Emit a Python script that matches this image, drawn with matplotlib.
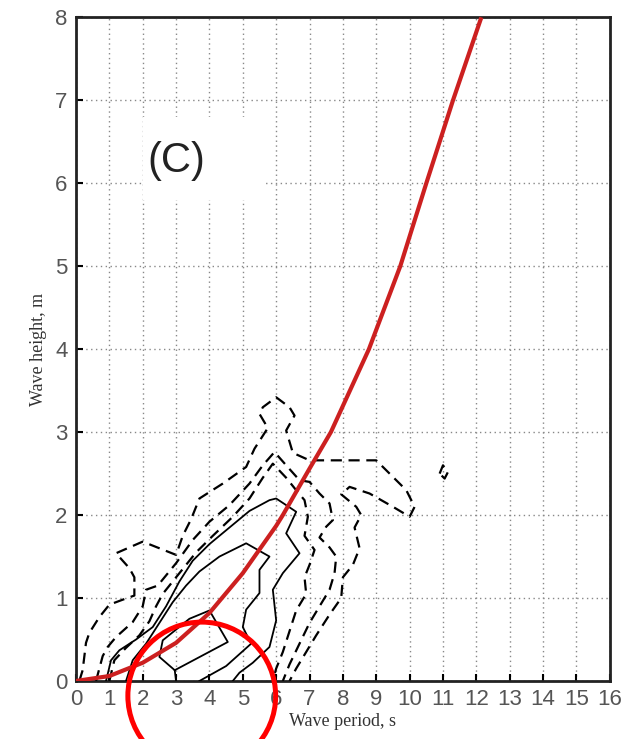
import numpy as np
import matplotlib
matplotlib.use("Agg")
import matplotlib.pyplot as plt
from matplotlib.patches import Ellipse, Rectangle

# steepness limit curve (wave period s, wave height m)
limit_t = [0, 1, 2, 3, 4, 5, 6, 6.2, 7, 7.64, 8.78, 9.72, 10.5, 11.3, 12.15]
limit_h = [0, 0.06, 0.22, 0.46, 0.82, 1.3, 1.87, 2.0, 2.56, 3.0, 4.0, 5.0, 6.0, 7.0, 8.0]

# dashed contours (outer levels)
dashed_1 = [(0.1, 0), (0.2, 0.13), (0.3, 0.46), (0.4, 0.58), (0.7, 0.77), (1.0, 0.92), (1.4, 0.98),
            (1.75, 1.03), (1.75, 1.25), (1.6, 1.36), (1.2, 1.54), (2.0, 1.68), (3.0, 1.52), (3.2, 1.75),
            (3.45, 1.95), (3.7, 2.2), (4.4, 2.38), (5.1, 2.58), (5.35, 2.8), (5.75, 3.05), (5.5, 3.22),
            (5.6, 3.3), (6.0, 3.42), (6.4, 3.3), (6.55, 3.2), (6.3, 3.02), (6.5, 2.75), (7.0, 2.66),
            (9.0, 2.66), (9.9, 2.3), (10.15, 2.1), (10.0, 1.98), (9.5, 2.1), (8.8, 2.26), (8.2, 2.34),
            (7.95, 2.25), (8.4, 2.1), (8.55, 2.0), (8.35, 1.85), (8.5, 1.6), (8.3, 1.4), (8.0, 1.25),
            (7.95, 1.0), (7.6, 0.8), (7.2, 0.55), (6.9, 0.35), (6.6, 0.15), (6.4, 0)]
dashed_2 = [(0.6, 0), (0.8, 0.3), (0.95, 0.41), (1.2, 0.53), (1.7, 0.71), (2.0, 0.9), (2.1, 1.1),
            (2.45, 1.15), (3.0, 1.42), (3.5, 1.7), (4.0, 1.92), (4.6, 2.12), (5.2, 2.38), (5.6, 2.6),
            (5.95, 2.76), (6.3, 2.6), (6.7, 2.42), (7.0, 2.4), (7.3, 2.26), (7.6, 2.14), (7.7, 1.94),
            (7.5, 1.86), (7.3, 1.73), (7.6, 1.61), (7.8, 1.5), (7.75, 1.3), (7.6, 1.1), (7.3, 0.9),
            (7.0, 0.7), (6.7, 0.45), (6.4, 0.2), (6.2, 0)]
dashed_3 = [(1.0, 0), (1.15, 0.25), (1.5, 0.4), (1.9, 0.55), (2.2, 0.72), (2.4, 0.9), (2.6, 1.05),
            (3.1, 1.3), (3.6, 1.55), (4.1, 1.75), (4.7, 1.98), (5.2, 2.2), (5.6, 2.45), (5.9, 2.62),
            (6.3, 2.45), (6.6, 2.3), (6.85, 2.18), (6.95, 1.98), (6.85, 1.75), (7.15, 1.58), (7.0, 1.4),
            (6.85, 1.25), (6.9, 1.05), (6.6, 0.85), (6.4, 0.6), (6.2, 0.35), (6.0, 0.15), (5.9, 0)]
blob = [(10.9, 2.5), (11.0, 2.6), (11.15, 2.52), (11.05, 2.44), (10.9, 2.5)]

# solid contours (inner levels)
solid_1 = [(0.9, 0), (1.05, 0.25), (1.3, 0.37), (1.8, 0.5), (2.3, 0.65), (2.7, 0.9), (3.1, 1.2),
           (3.5, 1.45), (4.0, 1.65), (4.6, 1.85), (5.2, 2.05), (5.8, 2.18), (6.0, 2.2), (6.6, 2.04),
           (6.3, 1.78), (6.7, 1.54), (6.2, 1.3), (5.9, 1.1), (6.0, 0.73), (5.8, 0.41), (5.3, 0.22),
           (4.9, 0.1), (4.7, 0)]
solid_2 = [(1.5, 0), (1.7, 0.25), (2.1, 0.45), (2.5, 0.7), (2.9, 0.95), (3.3, 1.15), (3.7, 1.32),
           (4.3, 1.5), (5.1, 1.66), (5.8, 1.5), (5.5, 1.34), (5.5, 1.06), (5.1, 0.86), (5.0, 0.65),
           (5.25, 0.45), (4.5, 0.18), (3.7, 0)]
solid_3 = [(3.0, 0), (2.96, 0.13), (2.5, 0.29), (2.6, 0.49), (3.4, 0.75), (4.0, 0.85), (4.55, 0.47),
           (2.96, 0.13)]

x_ticks = list(range(0, 17))
y_ticks = list(range(0, 9))

fig = plt.figure(figsize=(6.28, 7.39), dpi=100)
ax = fig.add_axes([0.121, 0.0785, 0.850, 0.898])

for line in [dashed_1, dashed_2, dashed_3, blob]:
    t, h = zip(*line)
    ax.plot(t, h, color="black", linewidth=1.6, linestyle=(0, (5, 3)), zorder=3)
for line in [solid_1, solid_2, solid_3]:
    t, h = zip(*line)
    ax.plot(t, h, color="black", linewidth=1.3, zorder=3)

ax.plot(limit_t, limit_h, color="#cc2020", linewidth=3, zorder=4, solid_capstyle="butt")

# white patch behind the panel letter
ax.add_patch(Rectangle((2.0, 5.8), 3.7, 1.0, facecolor="white", edgecolor="none", zorder=2))
ax.text(2.15, 6.27, "(C)", fontsize=30, family="Liberation Sans", va="center", ha="left",
        color="#222222", zorder=5)

# red highlight circle at the bottom
ax.add_patch(Ellipse((3.77, -0.18), 4.43, 1.78, fill=False, edgecolor="red", linewidth=3.6,
                     clip_on=False, zorder=6))

ax.set_xlim(0, 16)
ax.set_ylim(0, 8)
ax.set_xticks(x_ticks)
ax.set_yticks(y_ticks)
ax.grid(True, linestyle=(0, (1, 2.5)), color="#888888", linewidth=1)
ax.tick_params(direction="in", length=5, width=1.5, labelsize=16, colors="black",
               labelcolor="#555555", pad=6)
for lab in ax.get_xticklabels() + ax.get_yticklabels():
    lab.set_family("Liberation Sans")
for s in ax.spines.values():
    s.set_linewidth(2)
    s.set_color("#222222")

ax.set_xlabel("Wave period, s", family="Liberation Serif", fontsize=13, color="#333333", labelpad=2)
ax.set_ylabel("Wave height, m", family="Liberation Serif", fontsize=13, color="#333333", labelpad=6)

fig.savefig("out.png", dpi=100)
